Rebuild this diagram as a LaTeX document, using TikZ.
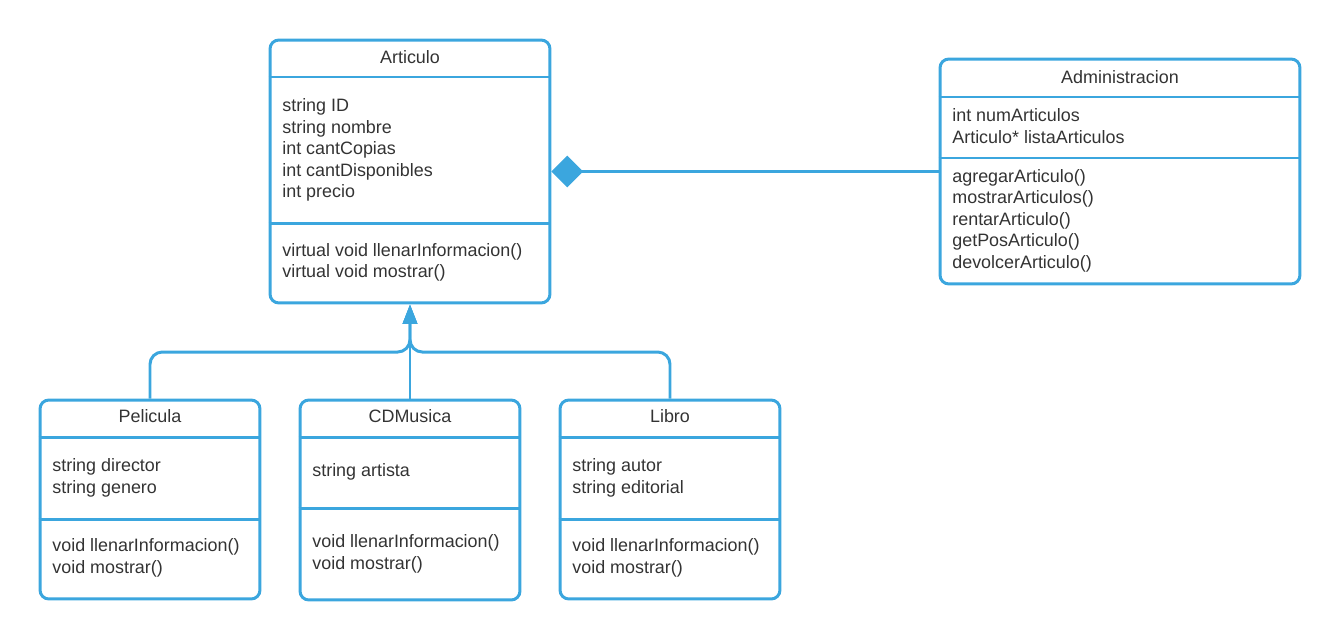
\documentclass[tikz,border=0pt]{standalone}
\usepackage{fontspec}
\setmainfont{Liberation Sans}
\usetikzlibrary{arrows.meta}
\definecolor{umlblue}{HTML}{3BA6DE}
\definecolor{umltext}{HTML}{333333}

\begin{document}
\begin{tikzpicture}[
    x=0.02cm, y=-0.02cm,
    every node/.style={text=umltext, font=\fontsize{10.2pt}{12.2pt}\selectfont},
    class/.style={draw=umlblue, line width=1.7pt, rounded corners=5pt, inner sep=0pt},
    rule/.style={draw=umlblue, line width=1.7pt},
    title/.style={anchor=base},
    members/.style={anchor=north west, inner sep=0pt, align=left},
    inherit/.style={-{Triangle[length=11pt, width=8pt]}, draw=umlblue,
                    line width=1.7pt, rounded corners=7pt},
    owns/.style={{Diamond[length=18pt, width=18pt]}-, draw=umlblue, line width=1.7pt},
]
    \useasboundingbox (0,0) rectangle (1340,640);

    \node[class, minimum width=5.6cm, minimum height=5.26cm] (articulo) at (410,171.5) {};
    \node[title] (articulotitle) at (410,63) {Articulo};
    \draw[rule] (articulo.west |- 0,77) -- (articulo.east |- 0,77);
    \node[members] (articuloattr) at (282,98.5)
        {string ID\\string nombre\\int cantCopias\\int cantDisponibles\\int precio};
    \draw[rule] (articulo.west |- 0,223) -- (articulo.east |- 0,223);
    \node[members] (articuloops) at (282,243)
        {virtual void llenarInformacion()\\virtual void mostrar()};

    \node[class, minimum width=7.2cm, minimum height=4.5cm] (administracion) at (1120,171.5) {};
    \node[title] (administraciontitle) at (1120,83) {Administracion};
    \draw[rule] (administracion.west |- 0,97) -- (administracion.east |- 0,97);
    \node[members] (administracionattr) at (952,108.5)
        {int numArticulos\\Articulo* listaArticulos};
    \draw[rule] (administracion.west |- 0,158) -- (administracion.east |- 0,158);
    \node[members] (administracionops) at (952,169)
        {agregarArticulo()\\mostrarArticulos()\\rentarArticulo()\\getPosArticulo()\\devolcerArticulo()};

    \node[class, minimum width=4.4cm, minimum height=3.98cm] (pelicula) at (150,499.5) {};
    \node[title] (peliculatitle) at (150,422.5) {Pelicula};
    \draw[rule] (pelicula.west |- 0,437) -- (pelicula.east |- 0,437);
    \node[members] (peliculaattr) at (52,458.5) {string director\\string genero};
    \draw[rule] (pelicula.west |- 0,519) -- (pelicula.east |- 0,519);
    \node[members] (peliculaops) at (52,538.5) {void llenarInformacion()\\void mostrar()};

    \node[class, minimum width=4.4cm, minimum height=4cm] (cdmusica) at (410,500) {};
    \node[title] (cdmusicatitle) at (410,422.5) {CDMusica};
    \draw[rule] (cdmusica.west |- 0,437) -- (cdmusica.east |- 0,437);
    \node[members] (cdmusicaattr) at (312,463.5) {string artista};
    \draw[rule] (cdmusica.west |- 0,508) -- (cdmusica.east |- 0,508);
    \node[members] (cdmusicaops) at (312,534.5) {void llenarInformacion()\\void mostrar()};

    \node[class, minimum width=4.4cm, minimum height=3.98cm] (libro) at (670,499.5) {};
    \node[title] (librotitle) at (670,422.5) {Libro};
    \draw[rule] (libro.west |- 0,437) -- (libro.east |- 0,437);
    \node[members] (libroattr) at (572,458.5) {string autor\\string editorial};
    \draw[rule] (libro.west |- 0,519) -- (libro.east |- 0,519);
    \node[members] (libroops) at (572,538.5) {void llenarInformacion()\\void mostrar()};

    \coordinate (join) at (410,352);
    \draw[inherit] (pelicula.north) |- (join) -- (articulo.south);
    \draw[inherit] (libro.north) |- (join) -- (articulo.south);
    \draw[inherit] (cdmusica.north) -- (articulo.south);
    \draw[owns] (articulo.east) -- (administracion.west);

\end{tikzpicture}
\end{document}
